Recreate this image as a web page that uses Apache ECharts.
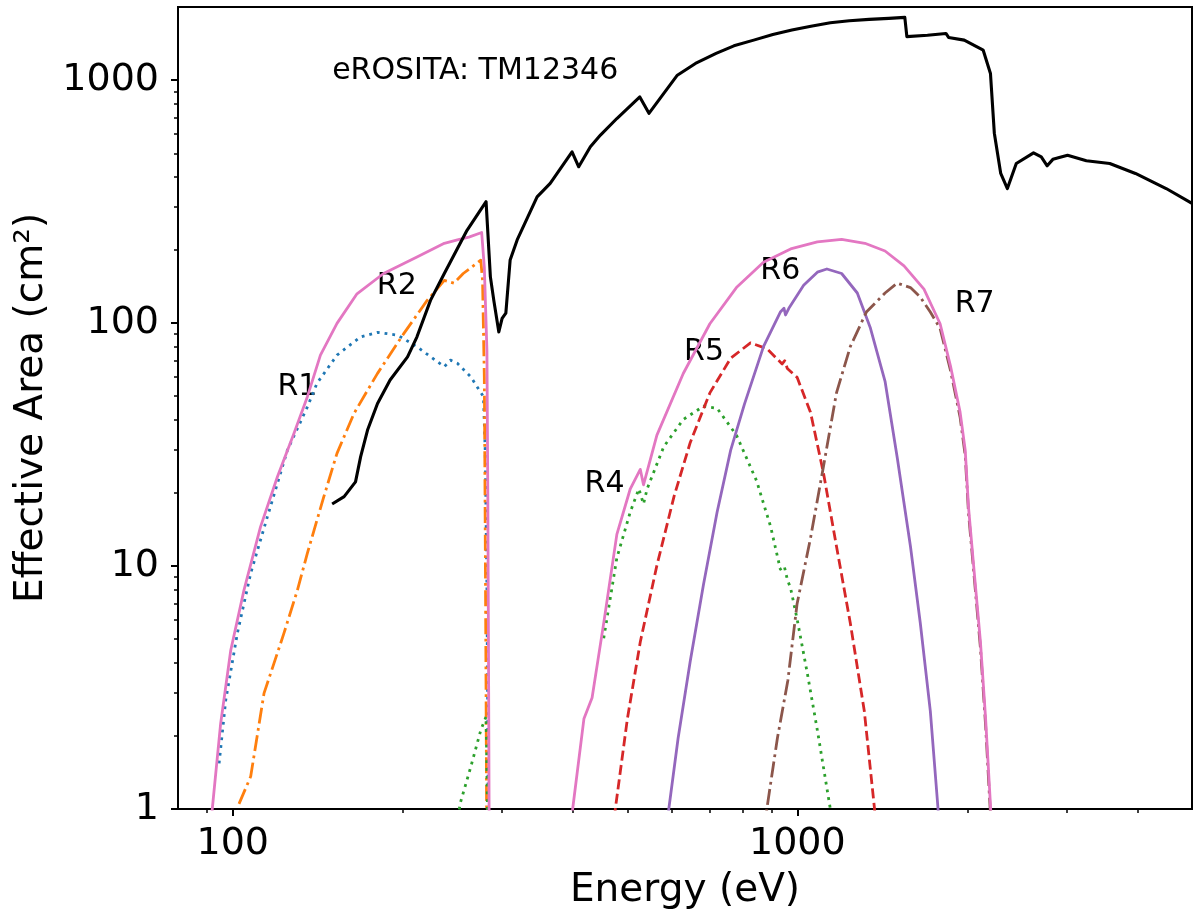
<!DOCTYPE html>
<html><head><meta charset="utf-8">
<script src="https://cdn.jsdelivr.net/npm/echarts@6/dist/echarts.min.js"></script>
<style>html,body{margin:0;padding:0;background:#fff}#c{width:1200px;height:915px}</style>
</head><body><div id="c"></div>
<script>
// ---- axis ticks ----
const xTicks = [100, 1000];
const yTicks = [1, 10, 100, 1000];

// ---- eROSITA TM12346 total (black) ----
const totE = [150,157.5,165,168.5,173.3,180.5,190,204,212,224,237,260,281,286,290,296,300,304.6,310,319,346,365,399,410,430,448,479,526,546,613,660,718,772,837,905,978,1057,1144,1236,1340,1452,1550,1560,1563,1570,1700,1833,1853,1975,2134,2198,2233,2292,2355,2442,2620,2704,2770,2835,3010,3250,3575,3970,4500,5000];
const totA = [18,19.3,22.2,28.2,36.3,46.7,58.3,72.6,87.8,124,160,241,316,155,124,92,104.6,110,182,220,331,376,507,440,532,594,695,853,730,1048,1171,1288,1384,1461,1542,1607,1668,1722,1755,1778,1795,1812,1815,1510,1507,1530,1556,1499,1461,1328,1065,605,413,358,454,502,483,444,472,491,466,454,413,358,311];

// ---- sum curve (pink) ----
const sumE = [91,92,95.2,99.2,104.7,112,120,128.4,135.6,143,153,166,185,212,237,250,262,276,279,282,283,284,284.5,285, 340, 398,400,418.8,433,454,479,506,527,534,564,628,700,780,871,973,1085,1198,1317,1430,1545,1676,1790,1867,1942,1983,2010,2052,2110,2155,2200,2205];
const sumA = [0.7,1,2.25,4.5,7.96,14.5,23.3,35.2,49.8,73.8,99.7,132,160,187,213,220,226,236,170,77,20,3,1,0.5, null, 0.8,1,2.35,2.87,5.82,13.5,20.8,25,21.6,34.6,62,99.4,140,178,202,216,221,213,198,172,138,99.4,66.7,43,30,17.4,10.06,4.87,2.35,1,0.8];

// ---- R1 (blue, dotted) ----
const r1E = [94.6,97.2,101.9,107.6,115.2,125,135.6,141,153,168.5,180.5,196,212,237,243,250,264,278,280,282,283,284];
const r1A = [1.54,2.81,5.28,9.33,15.96,30,45.2,56.5,73.8,87.8,91.6,89.2,79.9,66.1,70.4,68.3,60.1,49.8,30,8,2,0.5];

// ---- R2 (orange, dash-dot) ----
const r2E = [102.6,107.6,113.6,123.2,130.2,135.6,145,153,164,180.5,201,221,237,246.5,256,275,277,279,280,281,282];
const r2A = [1.05,1.36,2.99,5.28,7.96,11.3,19.3,29.1,42.5,62.1,90.7,124,150,146,160,181.6,150,60,15,3,0.5];

// ---- R4 (green, dotted) ----
const r4E = [248,253,264,275,281,283,284, 350, 454,479,506,524,534,542,580,628,682,721,780,847,897,933,948,960,973,999,1041,1085,1144,1155];
const r4A = [0.8,1.06,1.49,2.11,2.4,0.8,0.3, null, 5.04,10.8,16.7,20.8,18,20.8,31,40.1,45.5,44.6,34.6,22.4,14.5,9.7,10,8.8,8.1,6.05,3.64,2.11,1,0.8];

// ---- R5 (red, dashed) ----
const r5E = [472,476,500,527,564,605,646,700,762,826,883,940,950,960,999,1055,1113,1173,1241,1314,1370,1380];
const r5A = [0.8,1,2.35,4.87,10.06,19.4,32.2,51.6,71.7,82.9,78.5,67.9,70,65,59.8,43,24,12.06,5.83,2.53,1,0.8];

// ---- R6 (purple, solid) ----
const r6E = [588,592,615,646,682,721,762,806,871,933,947,953,966,1026,1085,1128,1198,1277,1346,1430,1503,1586,1651,1720,1775,1785];
const r6A = [0.8,1,1.96,4.05,8.4,16.7,30,46.4,80,111,115,108,115,143,162,167,160,133,96,57.6,27.9,12.06,5.83,2.53,1,0.8];

// ---- R7 (brown, dash-dot) ----
const r7E = [875,883,922,962,999,1055,1113,1173,1241,1325,1430,1503,1586,1651,1720,1790,1867,1942,1983,2010,2052,2110,2155,2198,2203];
const r7A = [0.8,1,1.96,3.38,7.0,13,25.9,51.6,80,111,133,146,140,128,111,95,64,41,28.5,16.5,9.6,4.6,2.2,0.95,0.8];

// ---- text annotations ----
const noteText = ['eROSITA: TM12346','R1','R2','R4','R5','R6','R7'];
const noteE = [150,120,180,420,630,860,1900];
const noteA = [1000,50,130,20,70,150,110];

const FONT = 'DejaVu Sans';
function pairs(E, A) { return E.map((e, i) => [e, A[i] == null ? null : A[i]]); }
function lineSeries(name, E, A, color, width, dash) {
  return {
    name, type: 'line', data: pairs(E, A), showSymbol: false, symbol: 'none',
    connectNulls: false, animation: false, silent: true, smooth: false,
    lineStyle: { color, width, type: dash || 'solid', cap: 'butt', join: 'round', opacity: 1 }
  };
}

const chart = echarts.init(document.getElementById('c'), null, { renderer: 'canvas' });
const tickFmt = v => String(Math.round(v));
chart.setOption({
  backgroundColor: '#fff',
  animation: false,
  grid: { left: 178, right: 8, top: 7, bottom: 106, show: true, borderColor: '#000', borderWidth: 2, containLabel: false },
  xAxis: {
    type: 'log', logBase: 10, min: 80, max: 5000,
    name: 'Energy (eV)', nameLocation: 'middle', nameGap: 62,
    nameTextStyle: { fontFamily: FONT, fontSize: 39, color: '#000' },
    axisLine: { show: true, lineStyle: { color: '#000', width: 2 } },
    axisTick: { show: true, length: 7, lineStyle: { color: '#000', width: 2 }, customValues: xTicks },
    minorTick: { show: true, splitNumber: 9, length: 4, lineStyle: { color: '#000', width: 1.5 } },
    axisLabel: { show: true, customValues: xTicks, formatter: tickFmt, margin: 16, fontFamily: FONT, fontSize: 38, color: '#000' },
    splitLine: { show: false }, minorSplitLine: { show: false }
  },
  yAxis: {
    type: 'log', logBase: 10, min: 1, max: 2000,
    name: 'Effective Area (cm²)', nameLocation: 'middle', nameGap: 127,
    nameTextStyle: { fontFamily: FONT, fontSize: 39, color: '#000' },
    axisLine: { show: true, lineStyle: { color: '#000', width: 2 } },
    axisTick: { show: true, length: 7, lineStyle: { color: '#000', width: 2 }, customValues: yTicks },
    minorTick: { show: true, splitNumber: 9, length: 4, lineStyle: { color: '#000', width: 1.5 } },
    axisLabel: { show: true, customValues: yTicks, formatter: tickFmt, margin: 19, fontFamily: FONT, fontSize: 38, color: '#000' },
    splitLine: { show: false }, minorSplitLine: { show: false }
  },
  series: [
    lineSeries('R1', r1E, r1A, '#1f77b4', 2.8, [2.8, 5]),
    lineSeries('R2', r2E, r2A, '#ff7f0e', 2.8, [16, 4.5, 2.8, 4.5]),
    lineSeries('R4', r4E, r4A, '#2ca02c', 2.8, [2.8, 5]),
    lineSeries('R5', r5E, r5A, '#d62728', 2.8, [10, 4.5]),
    lineSeries('R6', r6E, r6A, '#9467bd', 2.8),
    lineSeries('R7', r7E, r7A, '#8c564b', 2.8, [16, 4.5, 2.8, 4.5]),
    lineSeries('sum', sumE, sumA, '#e377c2', 2.8),
    lineSeries('TM12346', totE, totA, '#000000', 3.1),
    {
      type: 'scatter', symbolSize: 0, animation: false, silent: true,
      itemStyle: { opacity: 1 },
      data: noteText.map((t, i) => [noteE[i], noteA[i], t]),
      label: { show: true, position: 'inside', align: 'left', verticalAlign: 'middle', offset: [0, -9], opacity: 1,
        formatter: p => p.data[2], fontFamily: FONT, fontSize: 30, color: '#000' }
    }
  ]
});
</script>
</body></html>
